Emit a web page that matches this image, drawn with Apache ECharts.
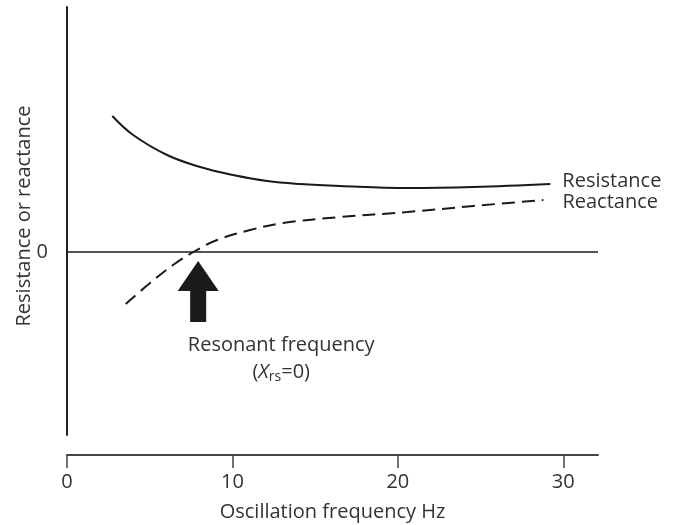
<!DOCTYPE html>
<html>
<head>
<meta charset="utf-8">
<script src="https://cdn.jsdelivr.net/npm/echarts@6/dist/echarts.min.js"></script>
<style>html,body{margin:0;padding:0;background:#fff}#c{width:680px;height:525px}</style>
</head>
<body>
<div id="c"></div>
<script>
// Data (frequency Hz, arbitrary resistance/reactance units)
const resistanceFreq = [2.74, 4.0, 6.05, 8.05, 10.04, 12.1, 14.1, 16.5, 20.57, 24.56, 29.22];
const resistanceVals = [13.6, 11.7, 9.7, 8.5, 7.7, 7.1, 6.8, 6.6, 6.4, 6.5, 6.8];
const reactanceFreq = [3.55, 5.02, 6.41, 7.64, 9.07, 11.07, 13.07, 16.52, 20.57, 24.56, 28.8];
const reactanceVals = [-5.2, -3.1, -1.3, 0.0, 1.2, 2.2, 2.9, 3.5, 4.0, 4.6, 5.2];
const xTicks = [0, 10, 20, 30];
const yTicks = [0];
const resonance = { freq: 7.93, tip: -0.9, headBase: -3.9, bottom: -7.0 };
const note = { freq: 12.95, y1: -9.3, y2: -12.0 };

const FONT = 'Open Sans';
const FS = 20;
const TXT = '#333';
const INK = '#1a1a1a';

const chart = echarts.init(document.getElementById('c'), null, { renderer: 'canvas' });
chart.setOption({
  animation: false,
  backgroundColor: '#fff',
  grid: { left: 67, right: 82, top: 7, bottom: 90, containLabel: false, outerBoundsMode: 'none' },
  xAxis: {
    type: 'value', min: 0, max: 32.1, interval: 10,
    offset: 20,
    name: 'Oscillation frequency Hz', nameLocation: 'middle', nameGap: 47, nameMoveOverlap: false,
    nameTextStyle: { fontFamily: FONT, fontSize: FS, color: TXT },
    axisLine: { show: true, onZero: false, lineStyle: { color: '#444', width: 2 } },
    axisTick: { show: true, length: 13, customValues: xTicks, lineStyle: { color: '#444', width: 1.5 } },
    axisLabel: { customValues: xTicks, margin: 17, fontFamily: FONT, fontSize: FS, color: TXT },
    splitLine: { show: false }
  },
  yAxis: {
    type: 'value', min: -18.3, max: 24.5,
    name: 'Resistance or reactance', nameLocation: 'middle', nameGap: 33, nameRotate: 90, nameMoveOverlap: false,
    nameTextStyle: { fontFamily: FONT, fontSize: FS, color: TXT, padding: [0, 0, 0, 10] },
    axisLine: { show: true, onZero: false, lineStyle: { color: '#222', width: 2 } },
    axisTick: { show: false },
    axisLabel: { customValues: yTicks, margin: 19, fontFamily: FONT, fontSize: FS, color: TXT },
    splitLine: { show: false }
  },
  series: [
    {
      name: 'Resistance', type: 'line', smooth: 0.4, showSymbol: false, symbol: 'none',
      data: resistanceFreq.map((f, i) => [f, resistanceVals[i]]),
      lineStyle: { color: INK, width: 2 },
      endLabel: { show: true, formatter: '{a}', distance: 12, offset: [0, -3], fontFamily: FONT, fontSize: FS, color: TXT },
      markLine: {
        silent: true, symbol: 'none', label: { show: false },
        lineStyle: { color: INK, type: 'solid', width: 1.5 },
        data: [{ yAxis: 0 }]
      }
    },
    {
      name: 'Reactance', type: 'line', smooth: 0.4, showSymbol: false, symbol: 'none',
      data: reactanceFreq.map((f, i) => [f, reactanceVals[i]]),
      lineStyle: { color: INK, width: 2, type: [13, 7] },
      endLabel: { show: true, formatter: '{a}', distance: 19, offset: [0, 2], fontFamily: FONT, fontSize: FS, color: TXT }
    },
    {
      type: 'custom', silent: true,
      data: [[resonance.freq, resonance.tip, resonance.headBase, resonance.bottom, note.freq, note.y1, note.y2]],
      renderItem: function (params, api) {
        const tip = api.coord([api.value(0), api.value(1)]);
        const base = api.coord([api.value(0), api.value(2)]);
        const bot = api.coord([api.value(0), api.value(3)]);
        const t1 = api.coord([api.value(4), api.value(5)]);
        const t2 = api.coord([api.value(4), api.value(6)]);
        const x = tip[0], hw = 20.5, sw = 8;
        return {
          type: 'group',
          children: [
            {
              type: 'polygon',
              shape: { points: [
                [x, tip[1]], [x + hw, base[1]], [x + sw, base[1]], [x + sw, bot[1]],
                [x - sw, bot[1]], [x - sw, base[1]], [x - hw, base[1]]
              ] },
              style: { fill: INK }
            },
            {
              type: 'text', x: t1[0], y: t1[1],
              style: { text: 'Resonant frequency', fontFamily: FONT, fontSize: FS, fill: TXT, align: 'center', verticalAlign: 'middle' }
            },
            {
              type: 'text', x: t2[0], y: t2[1],
              style: {
                text: '{a|(}{i|X}{s|rs}{a|=0)}', align: 'center', verticalAlign: 'middle',
                rich: {
                  a: { fontFamily: FONT, fontSize: FS, fill: TXT, color: TXT },
                  i: { fontFamily: FONT, fontSize: FS, fontStyle: 'italic', fill: TXT, color: TXT },
                  s: { fontFamily: FONT, fontSize: 14, fill: TXT, color: TXT, padding: [11, 0, 0, 0] }
                }
              }
            }
          ]
        };
      }
    }
  ]
});
</script>
</body>
</html>
